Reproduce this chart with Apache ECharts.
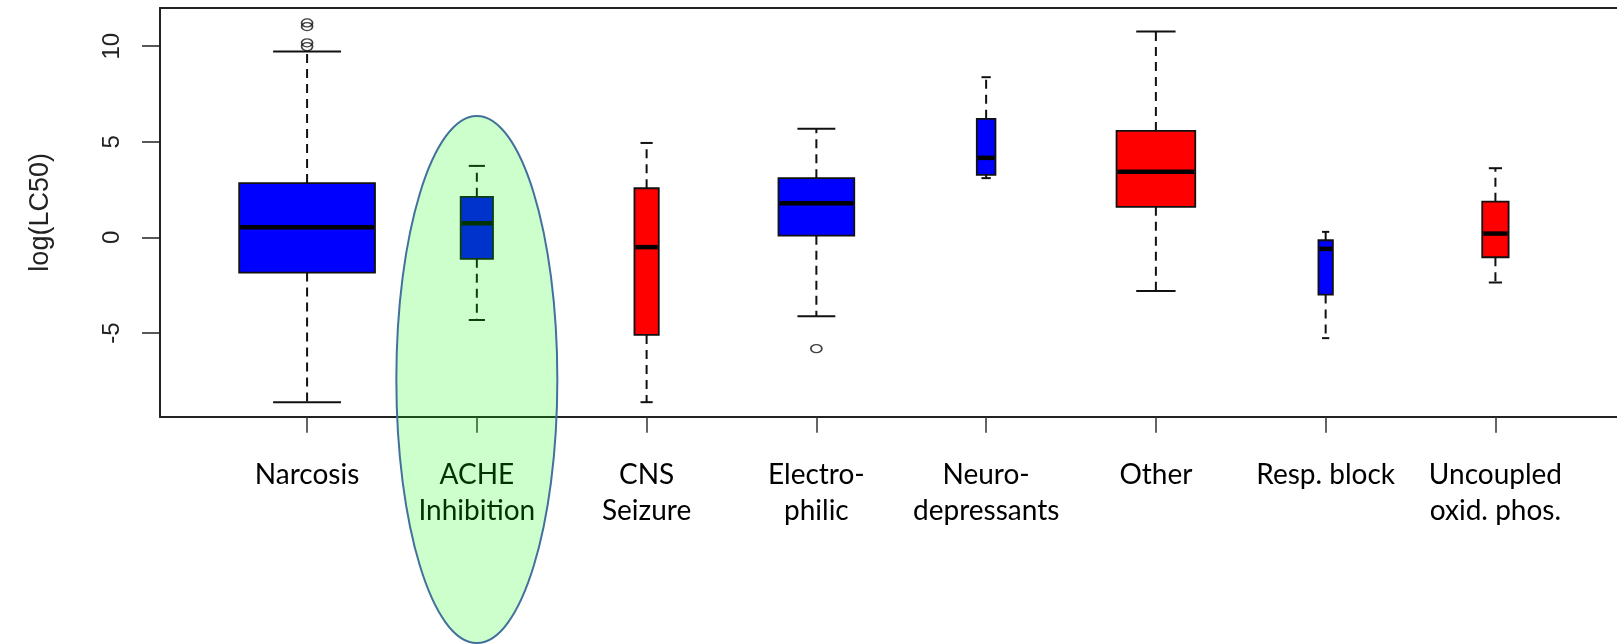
<!DOCTYPE html>
<html>
<head>
<meta charset="utf-8">
<script src="https://cdn.jsdelivr.net/npm/echarts@6/dist/echarts.min.js"></script>
<style>
  html, body { margin: 0; padding: 0; background: #ffffff; }
  #chart { width: 1617px; height: 644px; }
</style>
</head>
<body>
<div id="chart"></div>
<script>
// ---- data ----
const categories = ['Narcosis', 'ACHE\nInhibition', 'CNS\nSeizure', 'Electro-\nphilic',
                    'Neuro-\ndepressants', 'Other', 'Resp. block', 'Uncoupled\noxid. phos.'];
const lowerWhisker = [-8.62, -4.32, -8.62, -4.12, 3.10, -2.80, -5.27, -2.36];
const q1Values     = [-1.84, -1.12, -5.10,  0.09, 3.27,  1.60, -2.99, -1.04];
const medianValues = [ 0.53,  0.74, -0.51,  1.79, 4.16,  3.44, -0.60,  0.20];
const q3Values     = [ 2.84,  2.12,  2.57,  3.10, 6.20,  5.57, -0.15,  1.87];
const upperWhisker = [ 9.72,  3.74,  4.94,  5.68, 8.38, 10.77,  0.29,  3.62];
const sampleSizes  = [530, 30, 17, 165, 10, 178, 6, 20];   // box width ~ sqrt(n) (varwidth)
const outlierCategory = [0, 0, 0, 0, 3];
const outlierValue    = [11.22, 11.03, 10.18, 9.98, -5.82];
const yTickValues = [-5, 0, 5, 10];
const yMin = -9.38, yMax = 12.0;
const highlightCategory = 1; // ACHE Inhibition

// ---- styles ----
const boxColors = ['#0000FF', '#0000FF', '#FF0000', '#0000FF', '#0000FF', '#FF0000', '#0000FF', '#FF0000'];
const frameLine = { color: '#222', width: 2 };

const maxN = Math.max.apply(null, sampleSizes);
const boxData = categories.map((c, i) => [i, lowerWhisker[i], q1Values[i], medianValues[i], q3Values[i], upperWhisker[i], sampleSizes[i]]);
const outlierData = outlierCategory.map((c, i) => [c, outlierValue[i]]);

const chart = echarts.init(document.getElementById('chart'), null, { renderer: 'canvas' });

const option = {
  animation: false,
  backgroundColor: '#ffffff',
  grid: [
    { left: 160, top: 8, width: 1500, height: 408.7 },
    { left: 222.2, top: 8, width: 1358.1, height: 408.7 }
  ],
  xAxis: [
    { gridIndex: 0, type: 'value', position: 'bottom', min: 0, max: 1,
      axisLine: { show: true, onZero: false, lineStyle: frameLine },
      axisTick: { show: false }, axisLabel: { show: false }, splitLine: { show: false } },
    { gridIndex: 0, type: 'value', position: 'top', min: 0, max: 1,
      axisLine: { show: true, onZero: false, lineStyle: frameLine },
      axisTick: { show: false }, axisLabel: { show: false }, splitLine: { show: false } },
    {
      gridIndex: 1, type: 'category', data: categories, position: 'bottom',
      axisLine: { show: false, onZero: false },
      axisTick: { show: true, alignWithLabel: true, length: 16, lineStyle: { color: '#333', width: 1.5 } },
      axisLabel: { interval: 0, margin: 40, color: '#000', fontFamily: 'Lato', fontSize: 28, lineHeight: 36 },
      splitLine: { show: false }
    }
  ],
  yAxis: [
    {
      gridIndex: 0, type: 'value', min: yMin, max: yMax,
      name: 'log(LC50)', nameLocation: 'middle', nameRotate: 90, nameGap: 106,
      nameTextStyle: { fontFamily: 'Liberation Sans', fontSize: 27, color: '#222' },
      axisLine: { show: true, onZero: false, lineStyle: frameLine },
      axisTick: { show: true, length: 18, customValues: yTickValues, lineStyle: { color: '#222', width: 1.5 } },
      axisLabel: { rotate: 90, margin: 36, customValues: yTickValues, fontFamily: 'Liberation Sans', fontSize: 24, color: '#222' },
      splitLine: { show: false }
    },
    { gridIndex: 1, type: 'value', min: yMin, max: yMax, show: false,
      axisLine: { onZero: false }, splitLine: { show: false } }
  ],
  series: [
    {
      type: 'custom', xAxisIndex: 2, yAxisIndex: 1, z: 5,
      encode: { x: 0, y: [1, 2, 3, 4, 5] },
      data: boxData,
      renderItem: function (params, api) {
        const idx = api.value(0);
        const x = api.coord([idx, 0])[0];
        const yLo = api.coord([idx, api.value(1)])[1];
        const yQ1 = api.coord([idx, api.value(2)])[1];
        const yMed = api.coord([idx, api.value(3)])[1];
        const yQ3 = api.coord([idx, api.value(4)])[1];
        const yHi = api.coord([idx, api.value(5)])[1];
        const band = api.size([1, 0])[0];
        const w = 0.8 * band * Math.sqrt(api.value(6) / maxN);
        const cap = w / 4;
        const dash = { stroke: '#111', lineWidth: 2, lineDash: [9, 6] };
        const solid = { stroke: '#111', lineWidth: 2 };
        return {
          type: 'group',
          children: [
            { type: 'line', shape: { x1: x, y1: yQ3, x2: x, y2: yHi }, style: dash },
            { type: 'line', shape: { x1: x, y1: yQ1, x2: x, y2: yLo }, style: dash },
            { type: 'line', shape: { x1: x - cap, y1: yHi, x2: x + cap, y2: yHi }, style: solid },
            { type: 'line', shape: { x1: x - cap, y1: yLo, x2: x + cap, y2: yLo }, style: solid },
            { type: 'rect', shape: { x: x - w / 2, y: yQ3, width: w, height: yQ1 - yQ3 },
              style: { fill: boxColors[params.dataIndex], stroke: '#111', lineWidth: 1.8 } },
            { type: 'line', shape: { x1: x - w / 2 + 1, y1: yMed, x2: x + w / 2 - 1, y2: yMed },
              style: { stroke: '#000', lineWidth: 4.5 } }
          ]
        };
      }
    },
    {
      type: 'scatter', xAxisIndex: 2, yAxisIndex: 1, z: 6,
      data: outlierData,
      symbol: 'circle', symbolSize: [11, 8],
      itemStyle: { color: 'rgba(0,0,0,0)', borderColor: '#111', borderWidth: 1.5 }
    },
    {
      type: 'custom', xAxisIndex: 2, yAxisIndex: 1, z: 50, silent: true,
      data: [[highlightCategory, 0]],
      encode: { x: 0, y: 1 },
      renderItem: function (params, api) {
        const cx = api.coord([api.value(0), 0])[0];
        return {
          type: 'ellipse',
          shape: { cx: cx, cy: 379.5, rx: 80.5, ry: 263.5 },
          style: { fill: 'rgba(0,255,0,0.2)', stroke: '#41719C', lineWidth: 2 }
        };
      }
    }
  ]
};
chart.setOption(option);
</script>
</body>
</html>
